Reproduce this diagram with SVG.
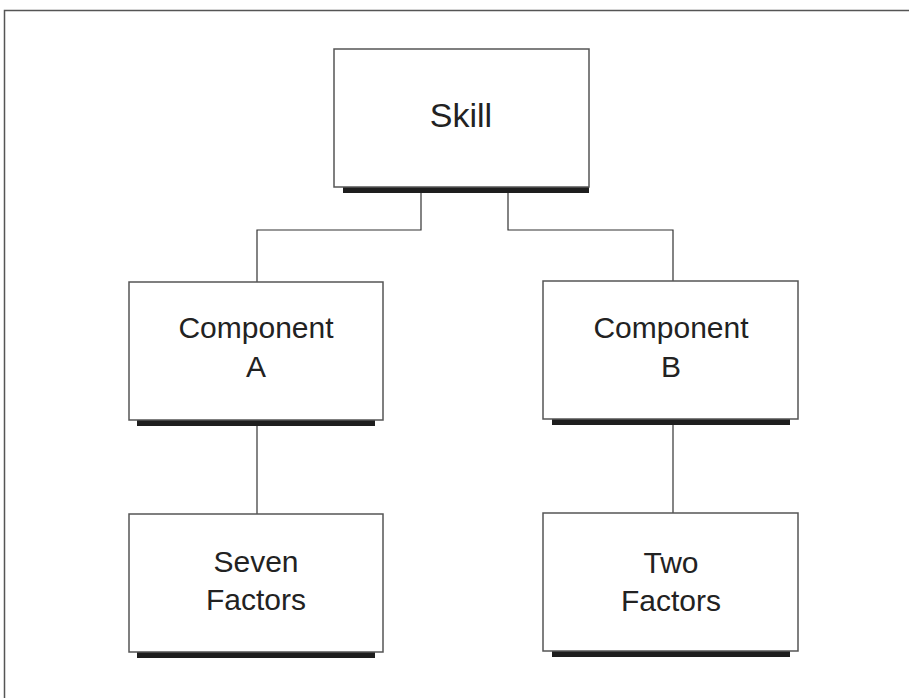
<svg xmlns="http://www.w3.org/2000/svg" width="909" height="698" viewBox="0 0 909 698">
<style>
.box{fill:#fff;stroke:#555;stroke-width:1.5}
.sh{fill:#1e1e1e}
.t{font-family:"Liberation Sans",Arial,sans-serif;font-size:30px;fill:#222;text-anchor:middle}
.c{fill:none;stroke:#333;stroke-width:1.2}
</style>
<rect width="909" height="698" fill="#fff"/>
<path d="M4.5 698 V10.5 H909" fill="none" stroke="#555" stroke-width="1.5"/>
<g id="connectors">
<path class="c" d="M421 193 V230 H257 V282"/>
<path class="c" d="M508 193 V230 H673 V281"/>
<path class="c" d="M257 426 V514"/>
<path class="c" d="M673 425 V513"/>
</g>
<g id="skill">
<rect class="sh" x="343" y="187" width="246" height="6"/>
<rect class="box" x="334" y="49" width="255" height="138"/>
<text class="t" x="461" y="127" style="font-size:34px">Skill</text>
</g>
<g id="compA">
<rect class="sh" x="137" y="420" width="238" height="6"/>
<rect class="box" x="129" y="282" width="254" height="138"/>
<text class="t" x="256" y="338">Component</text>
<text class="t" x="256" y="377">A</text>
</g>
<g id="compB">
<rect class="sh" x="552" y="419" width="238" height="6"/>
<rect class="box" x="543" y="281" width="255" height="138"/>
<text class="t" x="671" y="338">Component</text>
<text class="t" x="671" y="377">B</text>
</g>
<g id="seven">
<rect class="sh" x="137" y="652" width="238" height="6"/>
<rect class="box" x="129" y="514" width="254" height="138"/>
<text class="t" x="256" y="572">Seven</text>
<text class="t" x="256" y="610">Factors</text>
</g>
<g id="two">
<rect class="sh" x="552" y="651" width="238" height="6"/>
<rect class="box" x="543" y="513" width="255" height="138"/>
<text class="t" x="671" y="573">Two</text>
<text class="t" x="671" y="611">Factors</text>
</g>
</svg>
